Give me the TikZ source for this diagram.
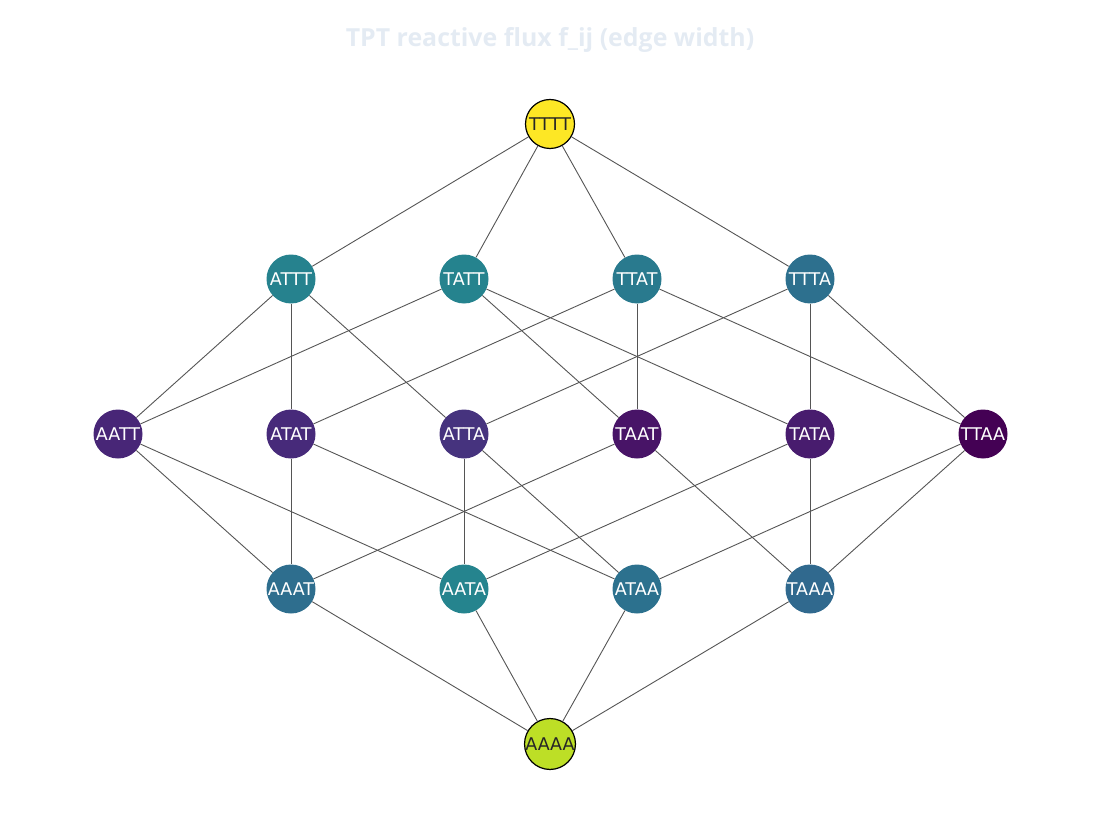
\documentclass[tikz,border=0pt]{standalone}
\usepackage{fontspec}
\setmainfont{DejaVu Sans}
\newfontfamily\titlefont{Open Sans}
\definecolor{titlec}{HTML}{E4EBF3}
\definecolor{edgec}{HTML}{555555}
\definecolor{cTTTT}{HTML}{FDE725}
\definecolor{cAAAA}{HTML}{BDDF26}
\definecolor{cATTT}{HTML}{26828E}
\definecolor{cTATT}{HTML}{25838E}
\definecolor{cTTAT}{HTML}{297A8E}
\definecolor{cTTTA}{HTML}{2D708E}
\definecolor{cAATT}{HTML}{482677}
\definecolor{cATAT}{HTML}{472A7A}
\definecolor{cATTA}{HTML}{46337E}
\definecolor{cTAAT}{HTML}{481467}
\definecolor{cTATA}{HTML}{481C6E}
\definecolor{cTTAA}{HTML}{440154}
\definecolor{cAAAT}{HTML}{2E6E8E}
\definecolor{cAATA}{HTML}{25848E}
\definecolor{cATAA}{HTML}{2C718E}
\definecolor{cTAAA}{HTML}{30698E}
\tikzset{
  st/.style={circle, minimum size=49pt, inner sep=0pt, text=white, font=\fontsize{17.5}{19}\selectfont},
  endst/.style={st, draw=black, line width=1.2pt, text=black!85},
  fl/.style={draw=edgec, line width=0.9pt}
}
\begin{document}
\begin{tikzpicture}[x=1pt,y=-1pt]
\useasboundingbox (0,0) rectangle (1100,837);
\node[font=\titlefont\bfseries\fontsize{24.9}{28}\selectfont, text=titlec] (title) at (550,40) {TPT reactive flux f\_ij (edge width)};
% nodes
\node[endst, fill=cTTTT] (TTTT) at (550,124) {TTTT};
\node[st, fill=cATTT] (ATTT) at (291,279) {ATTT};
\node[st, fill=cTATT] (TATT) at (464,279) {TATT};
\node[st, fill=cTTAT] (TTAT) at (637,279) {TTAT};
\node[st, fill=cTTTA] (TTTA) at (810,279) {TTTA};
\node[st, fill=cAATT] (AATT) at (118,434) {AATT};
\node[st, fill=cATAT] (ATAT) at (291,434) {ATAT};
\node[st, fill=cATTA] (ATTA) at (464,434) {ATTA};
\node[st, fill=cTAAT] (TAAT) at (637,434) {TAAT};
\node[st, fill=cTATA] (TATA) at (810,434) {TATA};
\node[st, fill=cTTAA] (TTAA) at (983,434) {TTAA};
\node[st, fill=cAAAT] (AAAT) at (291,589) {AAAT};
\node[st, fill=cAATA] (AATA) at (464,589) {AATA};
\node[st, fill=cATAA] (ATAA) at (637,589) {ATAA};
\node[st, fill=cTAAA] (TAAA) at (810,589) {TAAA};
\node[endst, fill=cAAAA] (AAAA) at (550,744) {AAAA};
% edges
\foreach \a/\b in {TTTT/ATTT,TTTT/TATT,TTTT/TTAT,TTTT/TTTA,
  ATTT/AATT,ATTT/ATAT,ATTT/ATTA,
  TATT/AATT,TATT/TAAT,TATT/TATA,
  TTAT/ATAT,TTAT/TAAT,TTAT/TTAA,
  TTTA/ATTA,TTTA/TATA,TTTA/TTAA,
  AATT/AAAT,AATT/AATA,
  ATAT/AAAT,ATAT/ATAA,
  ATTA/AATA,ATTA/ATAA,
  TAAT/AAAT,TAAT/TAAA,
  TATA/AATA,TATA/TAAA,
  TTAA/ATAA,TTAA/TAAA,
  AAAT/AAAA,AATA/AAAA,ATAA/AAAA,TAAA/AAAA}
  \draw[fl] (\a) -- (\b);
\end{tikzpicture}
\end{document}
